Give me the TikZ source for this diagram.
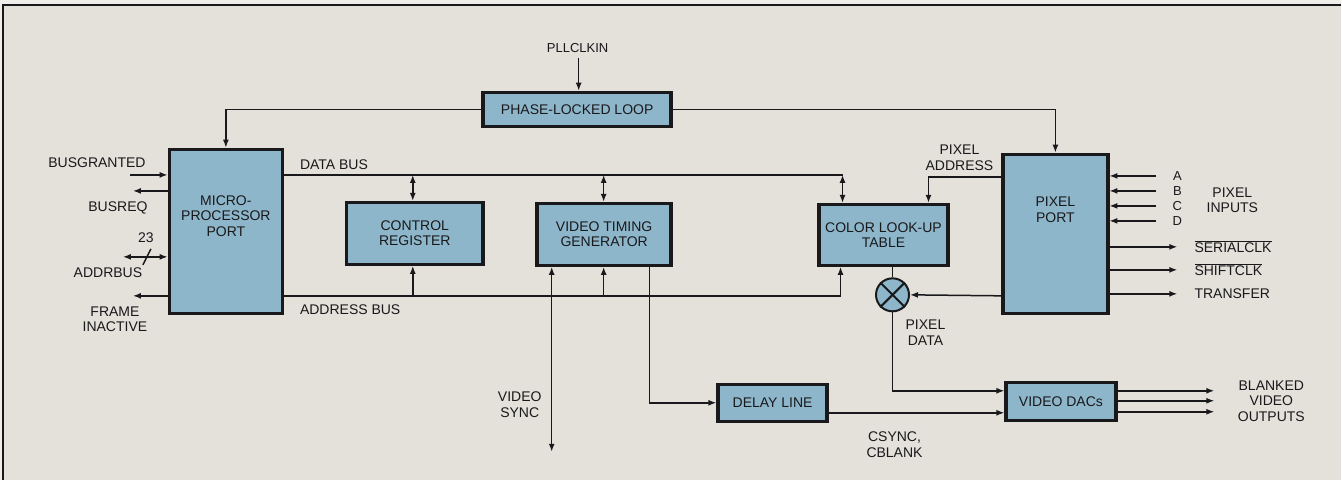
\documentclass[tikz,border=0pt]{standalone}
\usepackage{fontspec}
\setmainfont{Liberation Sans}
\usetikzlibrary{arrows.meta,calc}
\definecolor{bg}{RGB}{228,224,218}
\definecolor{outer}{RGB}{240,238,234}
\definecolor{boxfill}{RGB}{142,182,202}
\definecolor{ink}{RGB}{25,25,28}
\begin{document}
\begin{tikzpicture}[x=1pt,y=-1pt,
  blk/.style={draw=ink,fill=boxfill,line width=3.5pt,inner sep=0pt,align=center,
    font=\fontsize{14}{15.5}\selectfont,text=ink},
  lbl/.style={inner sep=0pt,align=center,font=\fontsize{14}{15.5}\selectfont,text=ink},
  wire/.style={draw=ink,line width=1.5pt},
  arr/.style={wire,-{Latex[length=8pt,width=6pt]}},
  darr/.style={wire,{Latex[length=8pt,width=6pt]}-{Latex[length=8pt,width=6pt]}}
]
% page and frame
\fill[outer] (0,0) rectangle (1342,480);
\fill[bg] (3,5) rectangle (1342,480);
\draw[ink,line width=1.5pt] (1342,5) -- (3,5) -- (3,480);
\useasboundingbox (0,0) rectangle (1342,480);

% blocks
\node[blk,minimum width=188pt,minimum height=34pt] (pll) at (577.5,109.5) {PHASE-LOCKED LOOP};
\node[blk,minimum width=113pt,minimum height=164pt] (mpu) at (226,231.5) {};
\node[lbl] (mputxt) at (226,216) {MICRO-\\PROCESSOR\\PORT};
\node[blk,minimum width=137pt,minimum height=62pt] (creg) at (415,233.5) {CONTROL\\REGISTER};
\node[blk,minimum width=134pt,minimum height=62pt] (vtg) at (604.5,234.5) {VIDEO TIMING\\GENERATOR};
\node[blk,minimum width=129pt,minimum height=61pt] (clut) at (884,235) {COLOR LOOK-UP\\TABLE};
\node[blk,minimum width=105pt,minimum height=159pt] (pport) at (1056,234) {};
\node[lbl] (pporttxt) at (1056,210) {PIXEL\\PORT};
\node[blk,minimum width=109pt,minimum height=37pt] (delay) at (773,403) {DELAY LINE};
\node[blk,minimum width=110pt,minimum height=38pt] (dacs) at (1061.5,401.5) {VIDEO DACs};
\node[circle,draw=ink,fill=boxfill,line width=2pt,minimum size=33pt,inner sep=0pt] (mix) at (893,295) {};
\draw[ink,line width=2pt] (mix.north west) -- (mix.south east) (mix.north east) -- (mix.south west);

% PLL
\node[lbl,font=\fontsize{13}{14}\selectfont] (pllin) at (578,48) {PLLCLKIN};
\coordinate (pllsrc) at (579,58);
\draw[arr] (pllsrc) -- (pllsrc |- pll.north);
\draw[arr] (pll.west) -| (mpu.north);
\draw[arr] (pll.east) -| (pport.north);

% data bus
\coordinate (db0) at (mpu.east |- 0,175);
\coordinate (db1) at (clut.north -| 843,0);
\draw[wire] (db0) -- (843,175);
\draw[darr] (413,175) -- (413,201);
\draw[darr] (604,175) -- (604,202);
\draw[darr] (843,175) -- (843,203);
\node[lbl,anchor=west] (dbl) at (300,165) {DATA BUS};

% address bus
\coordinate (ab0) at (mpu.east |- 0,296);
\draw[wire] (ab0) -- (841,296);
\draw[arr] (841,296) -- (841,267);
\draw[arr] (413,296) -- (413,266);
\draw[arr] (604,296) -- (604,267);
\node[lbl,anchor=west] (abl) at (300,310) {ADDRESS BUS};

% video sync
\coordinate (vs) at (552,452);
\draw[darr] (552,267) -- (vs);
\node[lbl] (vsl) at (520,405) {VIDEO\\SYNC};

% VTG to delay line
\draw[arr] (650,267) |- (delay.west);
\draw[arr] (829,413) -- (1005,413);
\node[lbl] (csl) at (895,445) {CSYNC,\\CBLANK};

% pixel data path
\draw[wire] (mix.north) -- (mix.north |- clut.south);
\draw[arr] (mix.south) |- (1005,391);
\draw[arr] (1002,296) -- (mix.east);
\node[lbl] (pdl) at (926,333) {PIXEL\\DATA};

% pixel address
\draw[arr] (1002,177) -| (929,203);
\node[lbl] (pal) at (960,158) {PIXEL\\ADDRESS};

% pixel inputs
\foreach \y/\t in {176/A,191/B,206/C,221/D}{
  \coordinate (pin\t) at (1157,\y);
  \draw[arr] (pin\t) -- (1110,\y);
  \node[lbl,font=\fontsize{13}{14}\selectfont] (pl\t) at (1178,\y) {\t};
}
\node[lbl] (pil) at (1233,200.5) {PIXEL\\INPUTS};

% pixel port outputs
\foreach \y/\n in {247/a,270/b,294/c}{
  \coordinate (po\n) at (1178,\y);
  \draw[arr] (1110,\y) -- (po\n);
}
\node[lbl,anchor=west] (scl) at (1195,247) {$\overline{\mbox{SERIALCLK}}$};
\node[lbl,anchor=west] (shl) at (1195,270) {$\overline{\mbox{SHIFTCLK}}$};
\node[lbl,anchor=west] (trl) at (1195,294) {TRANSFER};

% DAC outputs
\foreach \y/\n in {391/a,401/b,412/c}{
  \coordinate (do\n) at (1215,\y);
  \draw[arr] (1118,\y) -- (do\n);
}
\node[lbl] (bvo) at (1272,401) {BLANKED\\VIDEO\\OUTPUTS};

% left side signals
\coordinate (bg) at (130,175);
\draw[arr] (bg) -- (mpu.west |- bg);
\node[lbl] (bgl) at (97,163) {BUSGRANTED};
\coordinate (br) at (133,191);
\draw[arr] (mpu.west |- br) -- (br);
\node[lbl] (brl) at (118,208) {BUSREQ};
\coordinate (ad) at (123,257);
\draw[darr] (ad) -- (mpu.west |- ad);
\draw[ink,line width=1.5pt] (143,265) -- (151,249);
\node[lbl] (n23) at (146,238) {23};
\node[lbl] (adl) at (108,273) {ADDRBUS};
\coordinate (fi) at (133,296);
\draw[arr] (mpu.west |- fi) -- (fi);
\node[lbl] (fil) at (115,319.5) {FRAME\\INACTIVE};
\end{tikzpicture}
\end{document}
